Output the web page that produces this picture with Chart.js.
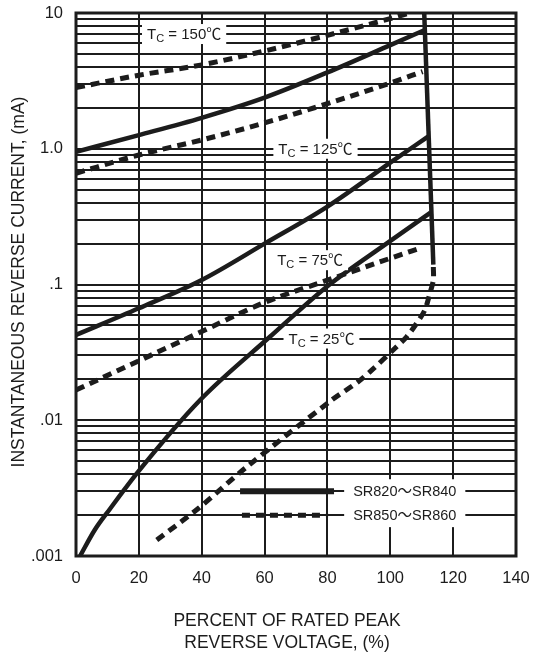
<!DOCTYPE html>
<html>
<head>
<meta charset="utf-8">
<script src="https://cdn.jsdelivr.net/npm/chart.js@4.4.0/dist/chart.umd.min.js"></script>
<style>
  html, body { margin: 0; padding: 0; background: #fff; }
  #wrap { width: 539px; height: 654px; }
</style>
</head>
<body>
<div id="wrap"><canvas id="chart"></canvas></div>
<script>
// axis ticks
const xTicks = [0, 20, 40, 60, 80, 100, 120, 140];
const yDecades = [0.001, 0.01, 0.1, 1, 10];
const yDecadeLabels = ['.001', '.01', '.1', '1.0', '10'];

// SR820~SR840 (solid)
const solid150X = [0, 20, 40, 60, 80, 100, 111];
const solid150Y = [0.95, 1.26, 1.69, 2.38, 3.65, 5.8, 7.5];
const solid125X = [0, 20, 40, 60, 80, 100, 112];
const solid125Y = [0.0425, 0.0668, 0.108, 0.2, 0.375, 0.79, 1.23];
const solid25X = [1.3, 6, 10.8, 19.8, 39.5, 61.7, 79.8, 98.9, 112.8];
const solid25Y = [0.001, 0.00156, 0.00222, 0.00418, 0.0141, 0.0412, 0.0964, 0.201, 0.338];
// steep drop at the end of the solid curves
const kneeX = [110.8, 113.7];
const kneeY = [10, 0.14];

// SR850~SR860 (dashed)
const dash150X = [0, 20, 40, 60, 80, 100, 106.3];
const dash150Y = [2.82, 3.48, 4.15, 5.25, 6.85, 9.1, 10];
const dash125X = [0, 20, 40, 60, 80, 100, 110.3];
const dash125Y = [0.66, 0.9, 1.16, 1.55, 2.15, 3.05, 3.7];
const dash75X = [0, 20, 40, 60, 80, 100, 110];
const dash75Y = [0.0167, 0.0274, 0.045, 0.0738, 0.1076, 0.156, 0.187];
const dash25X = [25.7, 38.9, 53.8, 81.4, 89.8, 94.1, 101.5, 105.2, 108.4, 111, 112.6, 113.7, 113.7];
const dash25Y = [0.00131, 0.00224, 0.00443, 0.0141, 0.0192, 0.0234, 0.0339, 0.0412, 0.0518, 0.0649, 0.086, 0.108, 0.135];

// labels
const tempLabels = ['150', '125', '75', '25'];
const seriesNames = ['SR820～SR840', 'SR850～SR860'];
const xTitle = ['PERCENT OF RATED PEAK', 'REVERSE VOLTAGE, (%)'];
const yTitle = 'INSTANTANEOUS REVERSE CURRENT, (mA)';

const INK = '#1c1c1c';
const FONT = "'Liberation Sans', Arial, 'Noto Sans CJK SC', sans-serif";

const pts = (xs, ys) => xs.map((x, i) => ({ x: x, y: ys[i] }));

const solid = (xs, ys, smooth) => ({
    data: pts(xs, ys),
    borderColor: INK,
    borderWidth: 4.5,
    pointRadius: 0,
    cubicInterpolationMode: smooth ? 'monotone' : 'default',
    tension: 0,
    fill: false,
});
const dashed = (xs, ys, mono) => ({
    data: pts(xs, ys),
    borderColor: INK,
    borderWidth: 5,
    borderDash: [9, 6],
    borderCapStyle: 'butt',
    pointRadius: 0,
    cubicInterpolationMode: mono ? 'monotone' : 'default',
    tension: mono ? 0 : 0.3,
    fill: false,
});

// every 1..9 x decade gets a grid line
const yGrid = [];
yDecades.slice(0, -1).forEach(d => {
    for (let m = 1; m < 10; m++) yGrid.push(+(d * m).toPrecision(3));
});
yGrid.push(yDecades[yDecades.length - 1]);

function drawTc(ctx, cx, cy, temp) {
    const big = '15px ' + FONT, small = '11px ' + FONT;
    const rest = ' = ' + temp + '℃';
    ctx.font = big; const wT = ctx.measureText('T').width; const wR = ctx.measureText(rest).width;
    ctx.font = small; const wC = ctx.measureText('C').width;
    const total = wT + wC + wR;
    let left = cx - total / 2;
    ctx.fillStyle = '#fff';
    ctx.fillRect(left - 5, cy - 10, total + 10, 20);
    ctx.fillStyle = INK;
    ctx.textAlign = 'left';
    ctx.textBaseline = 'alphabetic';
    const base = cy + 5;
    ctx.font = big; ctx.fillText('T', left, base); left += wT;
    ctx.font = small; ctx.fillText('C', left, base + 3); left += wC;
    ctx.font = big; ctx.fillText(rest, left, base);
}

const overlay = {
    id: 'overlay',
    afterDraw(chart) {
        const { ctx, chartArea: a, scales: { x, y } } = chart;
        ctx.save();

        // frame
        ctx.strokeStyle = INK;
        ctx.lineWidth = 3;
        ctx.strokeRect(a.left, a.top, a.right - a.left, a.bottom - a.top);

        // tick labels
        ctx.fillStyle = INK;
        ctx.font = '16.5px ' + FONT;
        ctx.textBaseline = 'middle';
        ctx.textAlign = 'right';
        yDecades.forEach((d, i) => ctx.fillText(yDecadeLabels[i], a.left - 13, y.getPixelForValue(d)));
        ctx.textAlign = 'center';
        xTicks.forEach(v => ctx.fillText(String(v), x.getPixelForValue(v), a.bottom + 22));

        // temperature labels (anchored in data units)
        const anchors = [[34.4, 7], [76.2, 1.0], [74.5, 0.151], [78.1, 0.04]];
        tempLabels.forEach((t, i) => {
            drawTc(ctx, x.getPixelForValue(anchors[i][0]), y.getPixelForValue(anchors[i][1]), t);
        });

        // legend
        ctx.font = '14.5px ' + FONT;
        const lx = x.getPixelForValue(104.6);
        const rows = [y.getPixelForValue(0.003), y.getPixelForValue(0.002)];
        const tw = Math.max(...seriesNames.map(s => ctx.measureText(s).width));
        ctx.fillStyle = '#fff';
        ctx.fillRect(lx - tw / 2 - 9, rows[0] - 12, tw + 18, rows[1] - rows[0] + 24);
        ctx.fillStyle = INK;
        ctx.textAlign = 'center';
        ctx.textBaseline = 'middle';
        seriesNames.forEach((s, i) => ctx.fillText(s, lx, rows[i] + 1));

        ctx.strokeStyle = INK;
        ctx.lineCap = 'butt';
        ctx.lineWidth = 6;
        ctx.beginPath();
        ctx.moveTo(x.getPixelForValue(52.2), rows[0]);
        ctx.lineTo(x.getPixelForValue(82.1), rows[0]);
        ctx.stroke();
        ctx.lineWidth = 5;
        ctx.setLineDash([8, 6]);
        ctx.beginPath();
        ctx.moveTo(x.getPixelForValue(52.8), rows[1]);
        ctx.lineTo(x.getPixelForValue(80.2), rows[1]);
        ctx.stroke();
        ctx.setLineDash([]);

        // axis titles
        ctx.font = '17.5px ' + FONT;
        ctx.textAlign = 'center';
        ctx.textBaseline = 'middle';
        ctx.fillText(xTitle[0], 287, 621);
        ctx.fillText(xTitle[1], 287, 643);
        ctx.translate(19, 282);
        ctx.rotate(-Math.PI / 2);
        ctx.fillText(yTitle, 0, 0);

        ctx.restore();
    }
};

new Chart(document.getElementById('chart'), {
    type: 'line',
    data: {
        datasets: [
            solid(solid150X, solid150Y, true),
            solid(solid125X, solid125Y, true),
            solid(solid25X, solid25Y, true),
            solid(kneeX, kneeY, false),
            dashed(dash150X, dash150Y, true),
            dashed(dash125X, dash125Y, true),
            dashed(dash75X, dash75Y, true),
            dashed(dash25X, dash25Y, false),
        ],
    },
    options: {
        responsive: true,
        maintainAspectRatio: false,
        animation: false,
        layout: { padding: { top: 13, right: 23, left: 0, bottom: 0 } },
        plugins: { legend: { display: false }, tooltip: { enabled: false } },
        scales: {
            x: {
                type: 'linear',
                min: 0,
                max: 140,
                afterBuildTicks: scale => { scale.ticks = xTicks.map(v => ({ value: v })); },
                afterFit: scale => { scale.height = 98; },
                ticks: { display: false },
                grid: { color: INK, lineWidth: 2, drawTicks: false },
                border: { display: false },
            },
            y: {
                type: 'logarithmic',
                min: 0.001,
                max: 10,
                afterBuildTicks: scale => { scale.ticks = yGrid.map(v => ({ value: v })); },
                afterFit: scale => { scale.width = 76; },
                ticks: { display: false, autoSkip: false },
                grid: { color: INK, lineWidth: 2, drawTicks: false },
                border: { display: false },
            },
        },
    },
    plugins: [overlay],
});
</script>
</body>
</html>
